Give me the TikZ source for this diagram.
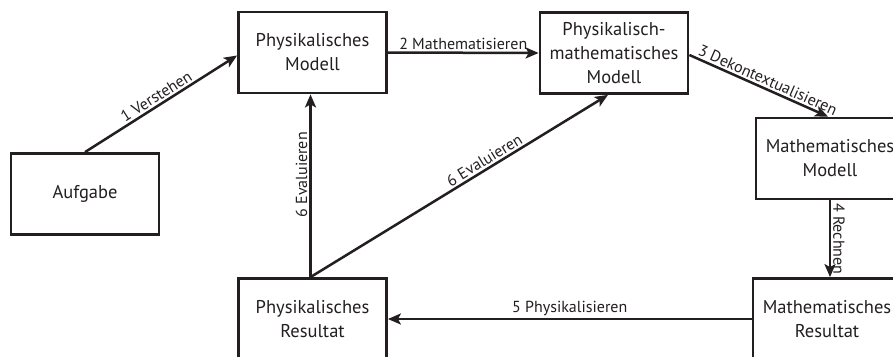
\documentclass[tikz,border=0pt]{standalone}
\usepackage{fontspec}
\setmainfont{PT Sans}
\usetikzlibrary{arrows.meta,calc}
\definecolor{ink}{HTML}{231F20}
\begin{document}
\begin{tikzpicture}[x=1pt,y=-1pt,
  box/.style={draw=ink,line width=2.8pt,minimum width=148pt,minimum height=81pt,
    align=center,inner sep=0pt,text=ink,font=\fontsize{18.5}{24}\selectfont},
  conn/.style={draw=ink,line width=2.5pt,-{Stealth[length=13pt,width=11pt,inset=3pt]}},
  lab/.style={text=ink,font=\fontsize{16}{18}\selectfont,inner sep=2pt}]
\useasboundingbox (0,0) rectangle (893,356);
\clip (0,0) rectangle (893,356);
\node[box] (auf) at (85,194) {Aufgabe};
\node[box] (pm) at (312.5,52.5) {Physikalisches\\Modell};
\node[box] (pmm) at (614,53) {Physikalisch-\\mathematisches\\Modell};
\node[box] (mm) at (830,158.5) {Mathematisches\\Modell};
\node[box] (mr) at (827,319) {Mathematisches\\Resultat};
\node[box] (pr) at (312.5,319) {Physikalisches\\Resultat};
\coordinate (pmmS) at ($(pmm.south)+(-6,0)$);
\coordinate (mmS) at (mm.south);
\coordinate (mrN) at (mmS |- mr.north);
\coordinate (prN) at ($(pr.north)+(-2,0)$);
\coordinate (pmS) at ($(pm.south)+(-2,0)$);
\draw[conn] (auf.north) -- node[lab,sloped,above,pos=0.5] {1 Verstehen} ($(pm.west)+(0,3)$);
\draw[conn] (pm.east) -- node[lab,above] {2 Mathematisieren} (pmm.west);
\draw[conn] ($(pmm.east)+(0,2)$) -- node[lab,sloped,above,pos=0.54] {3 Dekontextualisieren} ($(mm.north)+(-2,0)$);
\draw[conn] (mmS) -- node[lab,rotate=-90,anchor=south] {4 Rechnen} (mrN);
\draw[conn] (mr.west) -- node[lab,above] {5 Physikalisieren} (pr.east);
\draw[conn] (prN) -- node[lab,rotate=90,anchor=south,pos=0.56] {6 Evaluieren} (pmS);
\draw[conn] (prN) -- node[lab,sloped,above,pos=0.6] {6 Evaluieren} (pmmS);
\end{tikzpicture}
\end{document}
